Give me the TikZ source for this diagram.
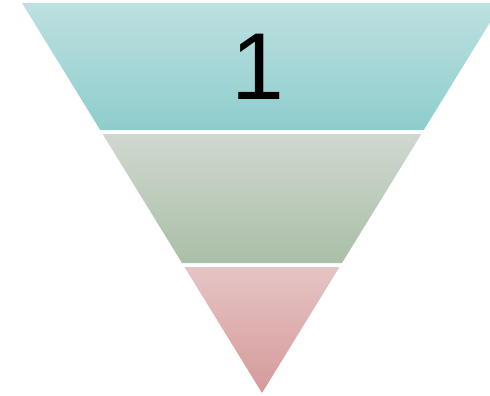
\documentclass[tikz,border=0pt]{standalone}
\usepackage{fontspec}
\setmainfont{Liberation Sans}
\begin{document}
\begin{tikzpicture}[x=1pt, y=-1pt]
    \tikzset{
        band/.style={draw=none, shading=axis, shading angle=0},
    }
    \useasboundingbox (0, 0) rectangle (490, 396);

    % top band
    \path[band, top color={rgb,255:red,190;green,224;blue,224}, bottom color={rgb,255:red,142;green,205;blue,205}]
        (22, 3) -- (502, 3) -- (423.8, 130) -- (100.2, 130) -- cycle;

    % middle band
    \path[band, top color={rgb,255:red,208;green,216;blue,207}, bottom color={rgb,255:red,170;green,191;blue,168}]
        (102.6, 134) -- (421.4, 134) -- (342, 263) -- (182, 263) -- cycle;

    % bottom band
    \path[band, top color={rgb,255:red,230;green,196;blue,196}, bottom color={rgb,255:red,213;green,154;blue,154}]
        (184.5, 267) -- (339.5, 267) -- (262, 393) -- cycle;

    \node[font=\fontsize{95}{95}\selectfont, inner sep=0pt] (num) at (258, 67) {1};
\end{tikzpicture}
\end{document}
